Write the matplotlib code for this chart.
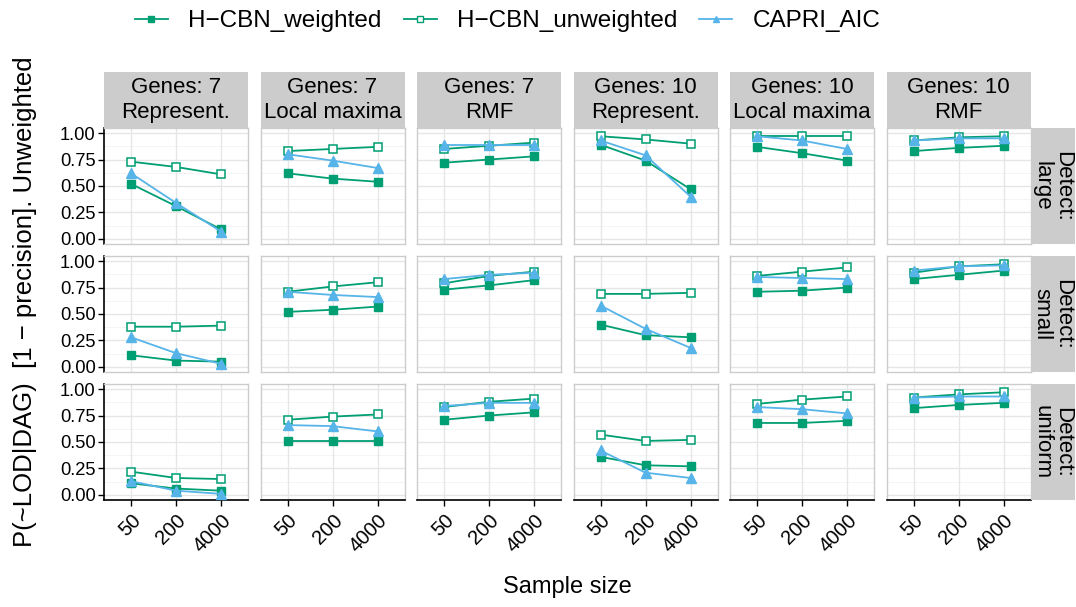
import matplotlib.pyplot as plt
import numpy as np

plt.rcParams["font.family"] = ["Liberation Sans", "DejaVu Sans"]

sample_sizes = ["50", "200", "4000"]
col_labels = ["Genes: 7\nRepresent.", "Genes: 7\nLocal maxima", "Genes: 7\nRMF",
              "Genes: 10\nRepresent.", "Genes: 10\nLocal maxima", "Genes: 10\nRMF"]
row_labels = ["Detect:\nlarge", "Detect:\nsmall", "Detect:\nuniform"]

# one list per detection regime, 6 panels x 3 sample sizes
weighted_large = [[0.52, 0.31, 0.09], [0.62, 0.57, 0.54], [0.72, 0.75, 0.78],
                  [0.89, 0.74, 0.47], [0.87, 0.81, 0.74], [0.83, 0.86, 0.88]]
unweighted_large = [[0.73, 0.68, 0.61], [0.83, 0.85, 0.87], [0.85, 0.88, 0.91],
                    [0.97, 0.94, 0.90], [0.97, 0.97, 0.97], [0.93, 0.96, 0.97]]
capri_large = [[0.62, 0.34, 0.07], [0.80, 0.74, 0.67], [0.89, 0.89, 0.89],
               [0.93, 0.79, 0.40], [0.97, 0.93, 0.85], [0.93, 0.95, 0.95]]

weighted_small = [[0.11, 0.06, 0.05], [0.52, 0.54, 0.57], [0.73, 0.77, 0.82],
                  [0.40, 0.30, 0.28], [0.71, 0.72, 0.75], [0.83, 0.87, 0.91]]
unweighted_small = [[0.38, 0.38, 0.39], [0.71, 0.76, 0.80], [0.79, 0.86, 0.90],
                    [0.69, 0.69, 0.70], [0.86, 0.90, 0.94], [0.89, 0.95, 0.97]]
capri_small = [[0.28, 0.13, 0.03], [0.71, 0.68, 0.66], [0.83, 0.87, 0.89],
               [0.58, 0.36, 0.18], [0.85, 0.84, 0.83], [0.91, 0.95, 0.96]]

weighted_uniform = [[0.11, 0.06, 0.04], [0.51, 0.51, 0.51], [0.71, 0.75, 0.78],
                    [0.36, 0.28, 0.27], [0.68, 0.68, 0.70], [0.82, 0.85, 0.87]]
unweighted_uniform = [[0.22, 0.16, 0.15], [0.71, 0.74, 0.76], [0.83, 0.88, 0.91],
                      [0.57, 0.51, 0.52], [0.86, 0.90, 0.93], [0.92, 0.95, 0.97]]
capri_uniform = [[0.13, 0.04, 0.01], [0.66, 0.65, 0.60], [0.84, 0.87, 0.87],
                 [0.42, 0.21, 0.16], [0.83, 0.81, 0.77], [0.92, 0.93, 0.93]]

weighted = [weighted_large, weighted_small, weighted_uniform]
unweighted = [unweighted_large, unweighted_small, unweighted_uniform]
capri = [capri_large, capri_small, capri_uniform]

green = "#009E73"
blue = "#56B4E9"
border = "#cccccc"

W, H = 1076, 607
fig = plt.figure(figsize=(W / 100, H / 100), dpi=100)

col_left = [104, 260.5, 417, 573.5, 730, 886.5]
row_top = [128, 256, 384]
pw, ph = 144, 116
strip_top = 72

x = np.arange(1, 4)


def box(px, py, w, h):
    return [px / W, 1 - (py + h) / H, w / W, h / H]


for r in range(3):
    for c in range(6):
        ax = fig.add_axes(box(col_left[c], row_top[r], pw, ph))
        ax.set_xlim(0.4, 3.6)
        ax.set_ylim(-0.048, 1.048)
        for yy in np.arange(0.125, 1.0, 0.25):
            ax.axhline(yy, color="#f3f3f3", lw=0.6, zorder=0)
        for yy in [0, 0.25, 0.5, 0.75, 1.0]:
            ax.axhline(yy, color="#e6e6e6", lw=1.0, zorder=0)
        for xx in x:
            ax.axvline(xx, color="#e6e6e6", lw=1.0, zorder=0)

        ax.plot(x, weighted[r][c], color=green, lw=1.3, marker="s", ms=5.5,
                markerfacecolor=green, markeredgecolor=green, zorder=3)
        ax.plot(x, unweighted[r][c], color=green, lw=1.3, marker="s", ms=5.5,
                markerfacecolor="white", markeredgecolor=green, markeredgewidth=1.1, zorder=3)
        ax.plot(x, capri[r][c], color=blue, lw=1.3, marker="^", ms=6.5,
                markerfacecolor=blue, markeredgecolor=blue, zorder=3)

        for s in ax.spines.values():
            s.set_color(border)
            s.set_linewidth(1.0)
        ax.set_xticks(x)
        ax.set_yticks([0, 0.25, 0.5, 0.75, 1.0])
        ax.tick_params(length=4, width=1.0, color="black", labelsize=13.2, pad=2)

        if c == 0:
            ax.spines["left"].set_color("black")
            ax.spines["left"].set_linewidth(1.2)
            ax.set_yticklabels(["0.00", "0.25", "0.50", "0.75", "1.00"])
        else:
            ax.tick_params(axis="y", left=False, labelleft=False)
        if r == 2:
            ax.spines["bottom"].set_color("black")
            ax.spines["bottom"].set_linewidth(1.2)
            ax.set_xticklabels(sample_sizes, rotation=45, ha="right", va="top",
                               rotation_mode="anchor", fontsize=14.5)
            ax.tick_params(axis="x", pad=4)
        else:
            ax.tick_params(axis="x", bottom=False, labelbottom=False)

        if r == 0:
            sax = fig.add_axes(box(col_left[c], strip_top, pw, row_top[0] - strip_top))
            sax.set_facecolor(border)
            sax.set_xticks([])
            sax.set_yticks([])
            for s in sax.spines.values():
                s.set_visible(False)
            sax.text(0.5, 0.5, col_labels[c], ha="center", va="center",
                     fontsize=16, linespacing=1.2, transform=sax.transAxes)
        if c == 5:
            rax = fig.add_axes(box(col_left[5] + pw, row_top[r], 44, ph))
            rax.set_facecolor(border)
            rax.set_xticks([])
            rax.set_yticks([])
            for s in rax.spines.values():
                s.set_visible(False)
            rax.text(0.5, 0.5, row_labels[r], ha="center", va="center", rotation=-90,
                     fontsize=16, linespacing=1.0, transform=rax.transAxes)

# legend across the top
h1, = fig.axes[0].plot([], [], color=green, lw=1.3, marker="s", ms=4.5)
h2, = fig.axes[0].plot([], [], color=green, lw=1.3, marker="s", ms=4.5,
                       markerfacecolor="white", markeredgewidth=1.0)
h3, = fig.axes[0].plot([], [], color=blue, lw=1.3, marker="^", ms=5)
fig.legend([h1, h2, h3], ["H\u2212CBN_weighted", "H\u2212CBN_unweighted", "CAPRI_AIC"],
           loc="center", bbox_to_anchor=(0.472, 1 - 21 / H), ncol=3, frameon=False,
           fontsize=17.5, handlelength=1.35, columnspacing=0.9, handletextpad=0.85)

fig.text(25 / W, 1 - 302 / H, "P(~LOD|DAG)  [1 \u2212 precision]. Unweighted",
         rotation=90, ha="center", va="center", fontsize=18.5)
fig.text(567 / W, 1 - 587 / H, "Sample size", ha="center", va="center", fontsize=17)

fig.savefig("out.png", dpi=100)
